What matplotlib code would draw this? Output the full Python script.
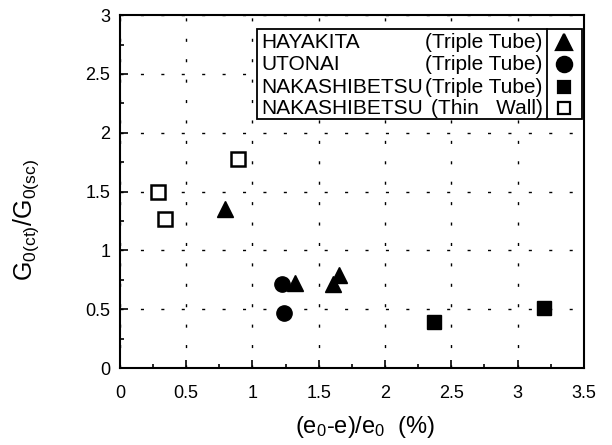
import matplotlib
matplotlib.use("Agg")
import matplotlib.pyplot as plt
from matplotlib.patches import Rectangle
from matplotlib.ticker import MultipleLocator, FuncFormatter

plt.rcParams['font.family'] = ['Liberation Sans', 'DejaVu Sans']
plt.rcParams['mathtext.fontset'] = 'custom'
plt.rcParams['mathtext.rm'] = 'Liberation Sans'
plt.rcParams['mathtext.it'] = 'Liberation Sans'

# Data
hay_x = [0.79, 1.32, 1.61, 1.65]
hay_y = [1.35, 0.72, 0.71, 0.79]
uto_x = [1.22, 1.24]
uto_y = [0.71, 0.47]
nak_tt_x = [2.37, 3.20]
nak_tt_y = [0.39, 0.51]
nak_tw_x = [0.29, 0.34, 0.89]
nak_tw_y = [1.50, 1.27, 1.78]

legend_names = ["HAYAKITA", "UTONAI", "NAKASHIBETSU", "NAKASHIBETSU"]
legend_types = ["(Triple Tube)", "(Triple Tube)", "(Triple Tube)", "(Thin   Wall)"]

fig = plt.figure(figsize=(6.12, 4.45), dpi=100)
ax = fig.add_axes([0.196, 0.173, 0.758, 0.793])

ax.plot(hay_x, hay_y, linestyle='none', marker='^', color='black', markersize=12, zorder=3)
ax.plot(uto_x, uto_y, linestyle='none', marker='o', color='black', markersize=11, zorder=3)
ax.plot(nak_tt_x, nak_tt_y, linestyle='none', marker='s', color='black', markersize=10, zorder=3)
ax.plot(nak_tw_x, nak_tw_y, linestyle='none', marker='s', markerfacecolor='white',
        markeredgecolor='black', markeredgewidth=1.8, markersize=10, zorder=3)

ax.set_xlim(0, 3.5)
ax.set_ylim(0, 3)
ax.xaxis.set_major_locator(MultipleLocator(0.5))
ax.xaxis.set_minor_locator(MultipleLocator(0.25))
ax.yaxis.set_major_locator(MultipleLocator(0.5))
ax.yaxis.set_minor_locator(MultipleLocator(0.25))
ax.xaxis.set_major_formatter(FuncFormatter(lambda v, p: f"{v:g}"))
ax.yaxis.set_major_formatter(FuncFormatter(lambda v, p: f"{v:g}"))

ax.tick_params(which='both', direction='in', top=False, right=False, labelsize=13, width=1.2)
ax.tick_params(which='major', length=6)
ax.tick_params(which='minor', length=3)
ax.tick_params(axis='x', which='major', pad=12)
ax.tick_params(axis='y', which='major', pad=7)
for s in ax.spines.values():
    s.set_linewidth(1.5)

ax.grid(True, which='major', color='black', linewidth=1.0, linestyle=(0, (2.2, 12.5)))
ax.set_axisbelow(True)

ax.set_xlabel(r'$\mathrm{(e_{0}\text{-}e)/e_{0}}$  (%)', fontsize=17)
ax.xaxis.set_label_coords((365 - 120) / 464.0, (368 - 427) / 353.0)
ax.xaxis.label.set_va('center')
ax.set_ylabel(r'$\mathrm{G_{0(ct)}/G_{0(sc)}}$', fontsize=18)
ax.yaxis.set_label_coords((26 - 120) / 464.0, (368 - 220) / 353.0)
ax.yaxis.label.set_va('center')

# Custom legend box (pixel -> axes coords)
def px2ax(px, py):
    x0, x1, y0, y1 = 120, 584, 368, 15
    return (px - x0) / (x1 - x0), (y0 - py) / (y0 - y1)

bx0, by0 = px2ax(257, 119)
bx1, by1 = px2ax(582, 29)
ax.add_patch(Rectangle((bx0, by0), bx1 - bx0, by1 - by0, transform=ax.transAxes,
                       facecolor='white', edgecolor='black', linewidth=1.3, zorder=5))
dx, _ = px2ax(547, 0)
ax.plot([dx, dx], [by0, by1], transform=ax.transAxes, color='black', linewidth=1.3, zorder=6)

rows_py = [42, 64, 87, 108]
markers = [('^', 'black', 11), ('o', 'black', 11), ('s', 'black', 9), ('s', 'white', 9)]
lx, _ = px2ax(261, 0)
rx, _ = px2ax(543, 0)
mx, _ = px2ax(564, 0)
for name, typ, py, (mk, fc, msz) in zip(legend_names, legend_types, rows_py, markers):
    _, ty = px2ax(0, py)
    ax.text(lx, ty, name, transform=ax.transAxes, ha='left', va='center', fontsize=15, zorder=7)
    ax.text(rx, ty, typ, transform=ax.transAxes, ha='right', va='center', fontsize=15, zorder=7)
    ax.plot([mx], [ty], transform=ax.transAxes, marker=mk, markerfacecolor=fc,
            markeredgecolor='black', markeredgewidth=1.6, markersize=msz,
            linestyle='none', zorder=7, clip_on=False)

fig.savefig('out.png', dpi=100)
